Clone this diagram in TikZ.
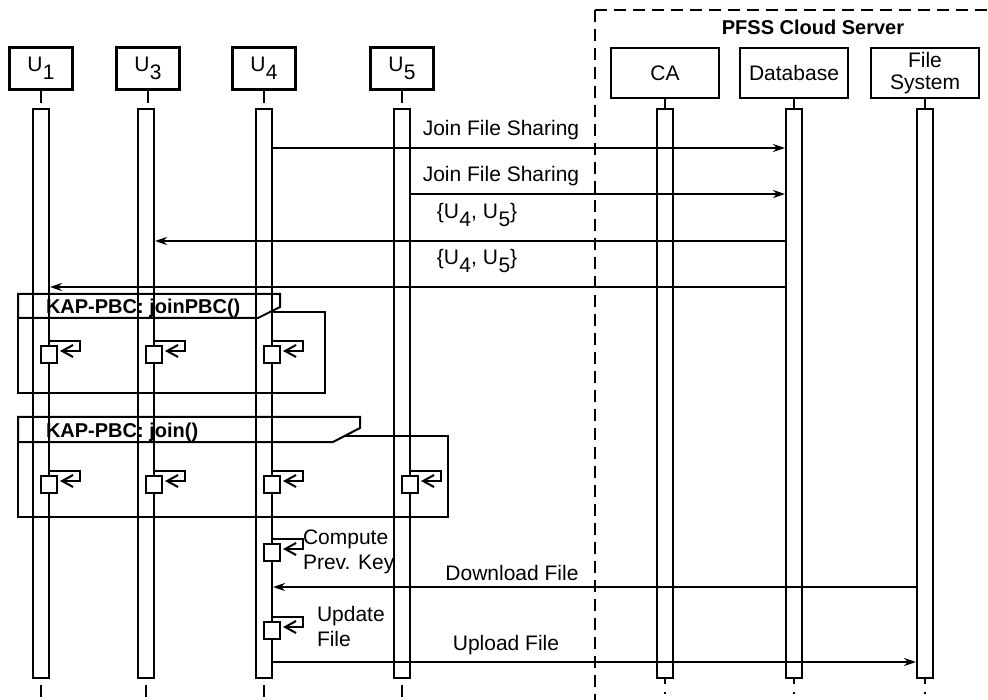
\documentclass[tikz,border=0pt]{standalone}
\usepackage{fontspec}
\setmainfont{Liberation Sans}
\usetikzlibrary{arrows.meta}
\newcommand{\Us}[1]{U\kern0.5pt\raisebox{-8pt}{#1}}
\newcommand{\selfcall}[4]{%
  \node[sq] (#1) at (#2+8,#4+13.5) {};
  \draw[selfarr] (#3.east |- 0,#4) -- ++(30,0) -- ++(0,10) -- ([xshift=2pt]#1.east |- 0,#4+10);
}
\begin{document}
\begin{tikzpicture}[x=1pt,y=-1pt, line width=2pt,
  font=\fontsize{21}{25}\selectfont,
  head/.style={draw, line width=2.2pt, minimum width=63pt, minimum height=42pt, inner sep=0pt},
  shead/.style={draw, line width=2.2pt, minimum width=108pt, minimum height=50pt, inner sep=0pt, align=center, font=\fontsize{21}{22}\selectfont},
  bar/.style={draw, fill=white, line width=2pt, minimum width=16pt, minimum height=569pt, inner sep=0pt},
  sq/.style={draw, fill=white, line width=2pt, minimum width=16pt, minimum height=17pt, inner sep=0pt},
  msg/.style={-{Stealth[length=12pt,width=8pt]}},
  selfarr/.style={-{Straight Barb[length=11pt,width=12pt]}},
  lbl/.style={inner sep=0pt, anchor=base},
  note/.style={inner sep=0pt, anchor=west, align=left},
  frametitle/.style={inner sep=0pt, anchor=base west, font=\fontsize{20}{24}\selectfont\bfseries},
  cloud/.style={line width=2.2pt, dash pattern=on 12pt off 7pt}]
\useasboundingbox (0,0) rectangle (988,700);

% cloud server border
\coordinate (cTL) at (595,10);
\coordinate (cTR) at (988,10);
\coordinate (cBL) at (595,700);
\draw[cloud] (cTL) -- (cTR);
\draw[cloud] (cTL) -- (cBL);
\node[inner sep=0pt, anchor=base, font=\fontsize{20}{24}\selectfont\bfseries] (cloudlbl) at (813,35) {PFSS Cloud Server};

% heads
\node[head] (h1) at (41,68.5) {\Us{1}};
\node[head] (h3) at (148,68.5) {\Us{3}};
\node[head] (h4) at (264,68.5) {\Us{4}};
\node[head] (h5) at (402,68.5) {\Us{5}};
\node[shead] (hCA) at (665,73) {CA};
\node[shead] (hDB) at (794,73) {Database};
\node[shead] (hFS) at (925,73) {File\\System};

% bars
\node[bar] (b1) at (41,393.5) {};
\node[bar] (b3) at (146,393.5) {};
\node[bar] (b4) at (264,393.5) {};
\node[bar] (b5) at (402,393.5) {};
\node[bar] (bCA) at (665,393.5) {};
\node[bar] (bDB) at (794,393.5) {};
\node[bar] (bFS) at (925,393.5) {};

% lifeline stubs
\foreach \h/\b in {h1/b1,h3/b3,h4/b4,h5/b5}{
  \draw (\h.south) -- ++(0,12);
  \draw ([yshift=-6pt]\b.south) -- ++(0,12);
}
\foreach \h/\b in {hCA/bCA,hDB/bDB,hFS/bFS}{
  \draw (\h.south) -- (\b.north);
  \draw (\b.south) -- ++(0,5);
  \draw ([yshift=-13pt]\b.south) -- ++(0,2);
}

% frames
\draw (18,294) -- (280,294) -- (280,307) -- (258,318) -- (18,318) -- cycle;
\draw (270,312) -- (325,312) -- (325,393) -- (18,393) -- (18,318);
\node[frametitle] (f1t) at (45,314) {KAP-PBC: joinPBC()};
\draw (18,417) -- (360,417) -- (360,428) -- (333,442) -- (18,442) -- cycle;
\draw (345,436) -- (448,436) -- (448,517) -- (18,517) -- (18,442);
\node[frametitle] (f2t) at (45,438) {KAP-PBC: join()};

% self calls
\selfcall{s11}{41}{b1}{341}
\selfcall{s13}{146}{b3}{341}
\selfcall{s14}{264}{b4}{341}
\selfcall{s21}{41}{b1}{471}
\selfcall{s23}{146}{b3}{471}
\selfcall{s24}{264}{b4}{471}
\selfcall{s25}{402}{b5}{471}
\selfcall{sc}{264}{b4}{539}
\selfcall{su}{264}{b4}{617}
\node[note] (nc) at (302,552) {Compute\\Prev. Key};
\node[note] (nu) at (316,626) {Update\\File};

% messages
\coordinate (y1) at (0,148);
\coordinate (y2) at (0,194);
\coordinate (y3) at (0,241);
\coordinate (y4) at (0,287);
\coordinate (y5) at (0,587);
\coordinate (y6) at (0,662);
\draw[msg] (b4.east |- y1) -- (bDB.west |- y1);
\node[lbl] (l1) at (501,136) {Join File Sharing};
\draw[msg] (b5.east |- y2) -- (bDB.west |- y2);
\node[lbl] (l2) at (501,182) {Join File Sharing};
\draw[msg] (bDB.west |- y3) -- (b3.east |- y3);
\node[lbl] (l3) at (477,219) {\{\Us{4}, \Us{5}\}};
\draw[msg] (bDB.west |- y4) -- (b1.east |- y4);
\node[lbl] (l4) at (477,265) {\{\Us{4}, \Us{5}\}};
\draw[msg] (bFS.west |- y5) -- (b4.east |- y5);
\node[lbl] (l5) at (512,580) {Download File};
\draw[msg] (b4.east |- y6) -- (bFS.west |- y6);
\node[lbl] (l6) at (506,650) {Upload File};
\end{tikzpicture}
\end{document}
